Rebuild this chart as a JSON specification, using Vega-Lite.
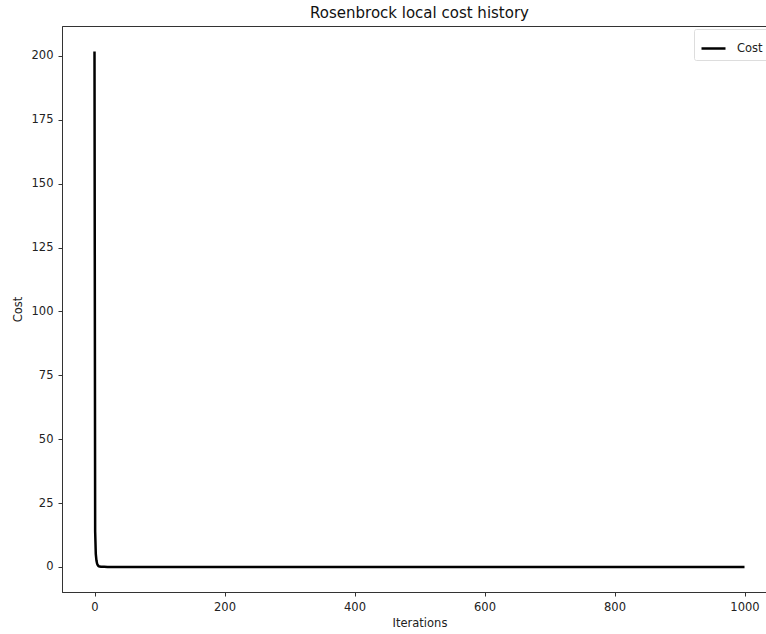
{
  "$schema": "https://vega.github.io/schema/vega-lite/v6.json",
  "autosize": "none",
  "padding": {"left": 62, "top": 26, "right": 0, "bottom": 42},
  "width": 715,
  "height": 566,
  "background": "white",
  "title": {
    "text": "Rosenbrock local cost history",
    "fontSize": 15,
    "fontWeight": "normal",
    "font": "DejaVu Sans",
    "color": "#111",
    "offset": 5
  },
  "data": {
    "values": [
      {"iteration": 0, "cost": 201.7},
      {"iteration": 1, "cost": 14.0},
      {"iteration": 2, "cost": 5.0},
      {"iteration": 3, "cost": 2.5},
      {"iteration": 4, "cost": 1.3},
      {"iteration": 5, "cost": 0.7},
      {"iteration": 6, "cost": 0.4},
      {"iteration": 7, "cost": 0.25},
      {"iteration": 8, "cost": 0.15},
      {"iteration": 10, "cost": 0.08},
      {"iteration": 15, "cost": 0.04},
      {"iteration": 20, "cost": 0.02},
      {"iteration": 50, "cost": 0.01},
      {"iteration": 100, "cost": 0.005},
      {"iteration": 200, "cost": 0.003},
      {"iteration": 300, "cost": 0.002},
      {"iteration": 400, "cost": 0.002},
      {"iteration": 500, "cost": 0.001},
      {"iteration": 600, "cost": 0.001},
      {"iteration": 700, "cost": 0.001},
      {"iteration": 800, "cost": 0.001},
      {"iteration": 900, "cost": 0.001},
      {"iteration": 1000, "cost": 0.001}
    ]
  },
  "mark": {"type": "line", "strokeWidth": 2.5, "interpolate": "linear"},
  "encoding": {
    "x": {
      "field": "iteration",
      "type": "quantitative",
      "title": "Iterations",
      "scale": {"domain": [-50, 1050], "nice": false, "zero": false},
      "axis": {"values": [0, 200, 400, 600, 800, 1000], "format": "d", "grid": false, "titlePadding": 5, "labelPadding": 5}
    },
    "y": {
      "field": "cost",
      "type": "quantitative",
      "title": "Cost",
      "scale": {"domain": [-9.8, 211.7], "nice": false, "zero": false},
      "axis": {"values": [0, 25, 50, 75, 100, 125, 150, 175, 200], "grid": false, "titlePadding": 8, "labelPadding": 5}
    },
    "color": {
      "datum": "Cost",
      "type": "nominal",
      "scale": {"range": ["black"]},
      "legend": {
        "title": null,
        "orient": "none",
        "legendX": 632,
        "legendY": 3,
        "symbolType": "stroke",
        "symbolSize": 576,
        "symbolStrokeWidth": 2.5,
        "labelFontSize": 11.5,
        "labelFont": "DejaVu Sans",
        "labelColor": "#222",
        "labelOffset": 10,
        "padding": 6,
        "strokeColor": "#ddd",
        "fillColor": "white",
        "cornerRadius": 2
      }
    }
  },
  "config": {
    "view": {"stroke": "#333", "strokeWidth": 1},
    "axis": {
      "domainColor": "#333",
      "domainWidth": 1,
      "tickColor": "#333",
      "tickSize": 4,
      "labelFont": "DejaVu Sans",
      "labelFontSize": 11.5,
      "labelColor": "#222",
      "titleFont": "DejaVu Sans",
      "titleFontSize": 11.5,
      "titleFontWeight": "normal",
      "titleColor": "#222"
    }
  }
}
